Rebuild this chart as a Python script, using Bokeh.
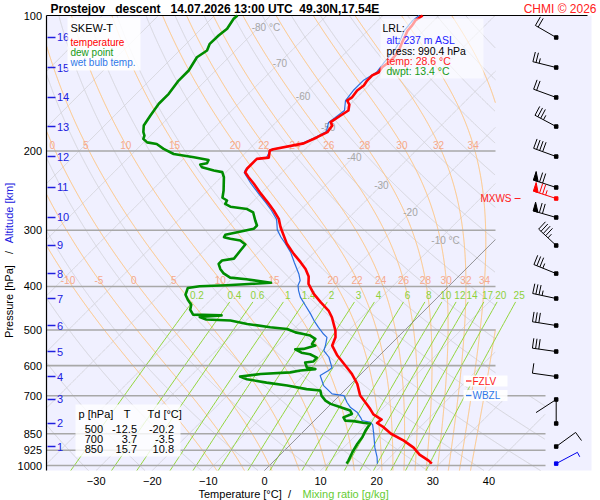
import numpy as np
from bokeh.plotting import figure
from bokeh.models import Range1d
from bokeh.embed import file_html
from bokeh.resources import INLINE
from bokeh.core.properties import value

FONT = "Liberation Sans"

# ---------------- texts ----------------
STATION = "Prostejov"
MODE = "descent"
TIMESTAMP = "14.07.2026 13:00 UTC"
LATLON = "49.30N,17.54E"
CREDIT = "CHMI \u00a9 2026"
X_TITLE = "Temperature [\u00b0C]"
X_TITLE2 = "Mixing ratio [g/kg]"
Y_TITLE = "Pressure [hPa]"
Y_TITLE2 = "Altitude [km]"

# ---------------- axes ----------------
P_TICKS = [100, 200, 300, 400, 500, 600, 700, 850, 925, 1000]
T_TICKS = [-30, -20, -10, 0, 10, 20, 30, 40]

ALT_KM = [1, 2, 3, 4, 5, 6, 7, 8, 9, 10, 11, 12, 13, 14, 15, 16]
ALT_P = [907.6, 806.6, 713.4, 634.3, 558.1, 488.6, 425.5, 374.5, 324.4,
         281.1, 241.1, 205.8, 176.5, 152.1, 130.5, 111.9]

# ---------------- sounding ----------------
TEMP_P = [100.0, 102.6, 105.2, 108.0, 110.8, 114.6, 119.6, 123.8, 127.0, 130.3,
          133.7, 135.9, 139.5, 143.1, 146.8, 151.8, 154.5, 157.7, 162.6, 166.8,
          172.6, 175.6, 181.6, 186.4, 192.4, 198.2, 199.5, 206.9, 208.3, 219.1,
          223.0, 228.8, 236.5, 248.8, 259.8, 271.2, 283.1, 295.4, 321.7, 338.6,
          353.3, 365.8, 380.2, 395.0, 415.4, 433.5, 452.5, 468.3, 501.3, 518.7,
          541.3, 569.7, 599.6, 626.2, 658.6, 699.2, 723.4, 749.2, 769.6, 790.6,
          804.6, 822.0, 850.0, 880.4, 912.6, 945.7, 975.3, 990.4]
TEMP_T = [-52.9, -53.3, -53.0, -52.9, -52.4, -51.8, -50.9, -50.6, -50.6, -50.9,
          -50.6, -51.2, -51.2, -50.9, -51.2, -50.9, -51.2, -50.1, -49.2, -49.7,
          -50.3, -49.4, -49.1, -50.0, -51.3, -55.7, -56.1, -55.0, -56.9, -56.9,
          -56.6, -55.1, -53.0, -50.0, -47.3, -44.7, -42.3, -40.5, -36.4, -33.4,
          -30.7, -28.6, -26.7, -25.4, -22.7, -20.0, -17.1, -15.3, -12.3, -11.1,
          -10.2, -7.5, -4.3, -1.6, 1.1, 3.7, 5.8, 7.9, 9.4, 11.8,
          11.6, 13.5, 16.0, 19.5, 22.5, 24.8, 27.5, 28.6]

WB_P = [100.0, 102.6, 108.0, 114.6, 119.6, 127.0, 133.7, 139.5, 146.8, 154.5,
        162.6, 168.5, 172.9, 181.0, 187.3, 193.2, 198.5, 206.9, 209.0, 220.0,
        223.4, 236.5, 248.8, 260.1, 271.2, 283.8, 299.5, 310.6, 321.3, 336.1,
        354.3, 375.3, 388.1, 398.1, 408.5, 422.6, 441.1, 460.3, 476.3, 493.1,
        510.3, 519.0, 541.3, 555.3, 574.7, 606.2, 615.2, 631.1, 664.3, 693.3,
        699.2, 724.5, 742.0, 761.1, 782.5, 794.7, 801.6, 811.3, 849.7, 912.6,
        958.5, 990.4]
WB_T = [-53.5, -53.8, -53.5, -52.3, -51.7, -51.4, -51.0, -51.9, -51.9, -51.5,
        -49.9, -50.3, -50.6, -49.4, -50.4, -51.9, -56.1, -55.4, -57.0, -57.0,
        -56.7, -53.5, -50.4, -47.6, -45.1, -42.6, -40.6, -38.7, -36.7, -34.2,
        -31.7, -28.9, -27.5, -27.0, -26.0, -24.5, -22.1, -19.7, -17.9, -15.9,
        -13.8, -12.6, -11.4, -10.8, -8.7, -6.3, -6.4, -7.0, -4.6, -1.6,
        0.8, 2.6, 4.0, 6.1, 7.7, 8.5, 10.3, 11.1, 12.9, 15.6,
        17.7, 18.9]

DEW_P = [100.0, 101.7, 107.0, 110.8, 115.6, 119.6, 123.8, 132.5, 139.5, 149.3,
         157.1, 166.8, 175.6, 181.6, 184.8, 188.0, 191.4, 193.0, 197.9, 203.1,
         206.6, 209.5, 213.0, 214.3, 217.3, 221.0, 222.9, 228.8, 244.8, 254.1,
         257.7, 262.3, 266.0, 269.2, 274.0, 285.5, 292.9, 297.9, 303.1, 307.1,
         310.9, 313.4, 316.2, 322.7, 332.8, 347.0, 350.3, 356.4, 365.8, 374.3,
         382.3, 385.6, 392.6, 394.7, 397.5, 399.7, 403.2, 417.4, 428.2, 439.3,
         450.6, 462.2, 463.9, 467.8, 473.9, 476.3, 484.6, 493.1, 497.2, 506.0,
         510.3, 514.3, 523.1, 536.7, 541.3, 550.6, 552.0, 561.5, 566.0, 575.7,
         587.4, 590.3, 605.6, 610.6, 615.2, 620.9, 626.2, 634.3, 643.1, 654.4,
         664.3, 676.6, 681.5, 699.2, 717.3, 729.6, 742.3, 755.0, 768.1, 781.7,
         794.7, 796.8, 803.6, 807.8, 836.4, 865.3, 894.8, 933.4, 975.3, 990.4]
DEW_T = [-85.9, -86.0, -85.4, -85.7, -85.8, -85.1, -85.7, -84.8, -84.8, -84.2,
         -84.2, -83.6, -83.0, -81.9, -81.1, -80.7, -79.4, -77.4, -75.3, -72.6,
         -68.4, -65.3, -65.0, -66.0, -65.2, -62.5, -60.7, -59.5, -57.2, -56.1,
         -54.8, -54.5, -53.1, -49.7, -48.0, -46.2, -45.0, -45.0, -47.3, -49.0,
         -48.8, -47.4, -45.3, -43.7, -43.5, -43.2, -45.0, -45.0, -43.8, -42.4,
         -40.5, -37.3, -32.3, -35.3, -39.8, -44.4, -46.2, -45.4, -44.1, -42.6,
         -41.9, -40.5, -35.3, -38.9, -37.3, -32.8, -29.2, -24.5, -21.2, -19.1,
         -17.4, -15.9, -14.4, -14.1, -13.2, -14.7, -16.1, -14.4, -12.6, -10.8,
         -10.7, -12.0, -10.8, -9.0, -11.4, -12.9, -17.9, -21.1, -19.4, -15.3,
         -11.1, -7.0, -4.3, -3.2, -1.6, -0.1, 2.3, 4.6, 5.5, 4.6,
         5.5, 7.1, 9.1, 10.5, 10.9, 11.5, 11.8, 12.4, 13.2, 13.4]

# winds (surface + every km)
WIND_P = [990.4, 907.6, 806.6, 713.4, 634.3, 558.1, 488.6, 425.5, 374.5,
          324.4, 281.1, 241.1, 205.8, 176.5, 152.1, 130.5, 111.9]
WIND_DIR = [62, 54, 360, 237, 278, 278, 279, 282, 292, 313, 286, 288, 290, 298, 290, 284, 300]
WIND_KT = [5, 10, 2, 2, 10, 30, 30, 35, 35, 45, 70, 70, 40, 35, 20, 25, 20]
MXWS_P, MXWS_DIR, MXWS_KT = 255.1, 288, 75
FZLV_P = 649.0
WBZL_P = 699.0

# lowest reported level and summary table
LRL_ALT, LRL_PRESS, LRL_TEMP, LRL_DWPT = 237, 990.4, 28.6, 13.4
TABLE_P = [500, 700, 850]
TABLE_T = [-12.5, 3.7, 15.7]
TABLE_TD = [-20.2, -3.5, 10.8]

# diagram lines
ISOTHERMS = list(range(-160, 60, 10))
DRY_THETA = list(range(220, 490, 10))
PSEUDO_THW = [-10, -5, 0, 5, 10, 15, 20, 22, 24, 26, 28, 30, 32, 34, 36]
PSEUDO_LAB_200 = [0, 5, 10, 15, 20, 22, 24, 26, 28, 30, 32, 34]
PSEUDO_LAB_400 = [-10, -5, 0, 5, 10, 15, 20, 22, 24, 26, 28, 30, 32, 34]
MIX_W = [0.2, 0.4, 0.6, 1, 1.4, 2, 3, 4, 6, 8, 10, 12, 14, 17, 20, 25]
ISO_LABEL_T = [-80, -70, -60, -50, -40, -30, -20, -10]
ISO_LABEL_P = [106.3, 127.2, 150.6, 176.5, 205.8, 238.6, 274.0, 316.2]

# ---------------- geometry ----------------
PB = 1025.9          # pressure at the bottom of the diagram
PT = 100.0           # pressure at the top of the diagram
SKEW = 80.2          # deg C per pressure decade


def RX(px):          # picture column -> data x
    return (px - 264.0) / 5.61


def RP(ry):          # picture row -> pressure
    return 100.0 * 10 ** ((ry - 15.0) / 450.0)


def PSY(pp):
    return 15.0 + 450.0 * np.log10(pp / 100.0)


X_LEFT = RX(46)
X_PANEL_RIGHT = RX(591)
X_CLIP_HI, X_CLIP_LO = RX(495), RX(545)


def skew(t, pp):
    return np.asarray(t, float) + SKEW * np.log10(PB / np.asarray(pp, float))


def clip_runs(X, P):
    X = np.asarray(X); P = np.asarray(P)
    lim = np.where(P < 699.0, X_CLIP_HI, X_CLIP_LO)
    ok = (X <= lim) & (X >= X_LEFT) & (P >= PT) & (P <= PB)
    runs, cx, cy = [], [], []
    for x, y, o in zip(X, P, ok):
        if o:
            cx.append(float(x)); cy.append(float(y))
        else:
            if len(cx) > 1:
                runs.append((cx, cy))
            cx, cy = [], []
    if len(cx) > 1:
        runs.append((cx, cy))
    return runs


def es_hpa(tk):
    return 6.112 * np.exp(17.67 * (tk - 273.15) / (tk - 29.65))


def moist_rate(tk, lnp):
    pp = np.exp(lnp)
    e = es_hpa(tk)
    rs = 0.622 * e / (pp - e)
    return (287.04 * tk + 2.501e6 * rs) / (1005.7 + 2.501e6 ** 2 * rs * 0.622 / (287.04 * tk * tk))


def pseudo(thw):
    def integ(p_end, n):
        lnps = np.linspace(np.log(1000.0), np.log(p_end), n)
        T = [thw + 273.15]
        for i in range(n - 1):
            h = lnps[i + 1] - lnps[i]
            tk = T[-1]
            k1 = moist_rate(tk, lnps[i])
            k2 = moist_rate(tk + h * k1 / 2, lnps[i] + h / 2)
            k3 = moist_rate(tk + h * k2 / 2, lnps[i] + h / 2)
            k4 = moist_rate(tk + h * k3, lnps[i + 1])
            T.append(tk + h * (k1 + 2 * k2 + 2 * k3 + k4) / 6)
        return np.exp(lnps), np.array(T) - 273.15
    pu, tu = integ(PT, 600)
    pd, td = integ(PB, 12)
    return np.concatenate([pd[::-1], pu[1:]]), np.concatenate([td[::-1], tu[1:]])


def td_of_w(w, pp):
    e = w * pp / (622.0 + w)
    g = np.log(e / 6.112)
    return 243.5 * g / (17.67 - g)


# ---------------- figure (the frame is the whole picture) ----------------
p = figure(width=600, height=500, title=None,
           x_range=Range1d(RX(0), RX(600)), y_range=Range1d(RP(500), RP(0)),
           y_axis_type="log", x_axis_location=None, y_axis_location=None,
           output_backend="svg", toolbar_location=None,
           min_border_left=0, min_border_right=0, min_border_top=0, min_border_bottom=0,
           background_fill_color="white", border_fill_color="white",
           outline_line_color=None)
p.xgrid.visible = False
p.ygrid.visible = False

# diagram panel
p.quad(left=[X_LEFT], right=[X_PANEL_RIGHT], top=[PT], bottom=[PB],
       fill_color="#F0F0FF", line_color=None)

PD = np.logspace(np.log10(PB), np.log10(PT), 900)

# isotherms
xs, ys = [], []
zx, zy = [], []
for t in ISOTHERMS:
    for rx_, ry_ in clip_runs(skew(t, PD), PD):
        if t == 0:
            zx.append(rx_); zy.append(ry_)
        else:
            xs.append(rx_); ys.append(ry_)
# dry adiabats
for th in DRY_THETA:
    tc = th * (PD / 1000.0) ** 0.2857 - 273.15
    for rx_, ry_ in clip_runs(skew(tc, PD), PD):
        xs.append(rx_); ys.append(ry_)
p.multi_line(xs, ys, line_color="#D4D4DA", line_width=1)

# pseudo-adiabats
ox, oy = [], []
lab_x, lab_y, lab_t = [], [], []
for thw in PSEUDO_THW:
    pp_, tt_ = pseudo(thw)
    X = skew(tt_, pp_)
    for rx_, ry_ in clip_runs(X, pp_):
        ox.append(rx_); oy.append(ry_)
    lnp_rev = np.log(pp_[::-1]); X_rev = X[::-1]
    if thw in PSEUDO_LAB_200:
        lab_x.append(float(np.interp(np.log(193.5), lnp_rev, X_rev))); lab_y.append(193.5); lab_t.append(str(thw))
    if thw in PSEUDO_LAB_400:
        lab_x.append(float(np.interp(np.log(386.7), lnp_rev, X_rev))); lab_y.append(386.7); lab_t.append(str(thw))
p.multi_line(ox, oy, line_color="#FFC47E", line_width=1)

# mixing ratio lines
PM = np.logspace(np.log10(PB), np.log10(433.0), 40)
mx, my = [], []
for w in MIX_W:
    mx.append(list(skew(td_of_w(w, PM), PM))); my.append(list(PM))
p.multi_line(mx, my, line_color="#94D63E", line_width=1)

# 0 deg C isotherm
p.multi_line(zx, zy, line_color="#777777", line_width=1)

# pressure levels
for pl in P_TICKS[1:]:
    right = X_CLIP_HI if pl < 699 else X_CLIP_LO
    p.segment(x0=[X_LEFT], x1=[right], y0=[pl], y1=[pl], line_color="#A8A8A8", line_width=1.6)
p.segment(x0=[X_LEFT], x1=[RX(587)], y0=[PT], y1=[PT], line_color="black", line_width=1.2)
p.segment(x0=[X_LEFT], x1=[X_LEFT], y0=[PT], y1=[PB], line_color="black", line_width=1.2)


def tx(x, y, s, color="black", size="10px", align="left", style="normal", angle=0.0, x_offset=0):
    p.text(x=x, y=y, text=s, text_color=color, text_font=value(FONT), text_font_size=size,
           text_align=align, text_baseline="middle", text_font_style=style, angle=angle,
           x_offset=x_offset)


# tick labels
tx([RX(41.5)] * len(P_TICKS), P_TICKS, [str(v) for v in P_TICKS], size="11px", align="right")
tx(T_TICKS, [RP(480)] * len(T_TICKS), [("\u2212" + str(-v)) if v < 0 else str(v) for v in T_TICKS],
   size="11px", align="center")

# labels of diagram lines
tx(lab_x, lab_y, lab_t, color="#F5A98C", align="center")
mix_x = [float(skew(td_of_w(w, 419.0), 419.0)) for w in MIX_W]
tx(mix_x, [419.0] * len(MIX_W), [f"{w:g}" for w in MIX_W], color="#8ED13A", align="center")
iso_txt = [f"{t} \u00b0C" if t in (-80, -10) else f"{t}" for t in ISO_LABEL_T]
tx(list(skew(ISO_LABEL_T, ISO_LABEL_P)), ISO_LABEL_P, iso_txt, color="#A6A6A6", x_offset=-7)

# altitude scale
p.segment(x0=[RX(47)] * len(ALT_P), x1=[RX(55)] * len(ALT_P), y0=ALT_P, y1=ALT_P,
          line_color="#2020E0", line_width=1.6)
tx([RX(56.5)] * len(ALT_P), ALT_P, [str(k) for k in ALT_KM], color="#2020E0", size="11px")

# legend box
p.quad(left=[RX(67)], right=[RX(140)], top=[RP(17)], bottom=[RP(70)], fill_color="white",
       fill_alpha=0.85, line_color=None)
tx([RX(70)], [RP(27)], ["SKEW-T"], size="11px")
tx([RX(70)], [RP(42)], ["temperature"], color="#FF0000")
tx([RX(70)], [RP(52)], ["dew point"], color="#169A16")
tx([RX(70)], [RP(62)], ["wet bulb temp."], color="#2F78E8")

# table box
p.quad(left=[RX(75)], right=[RX(180)], top=[RP(404)], bottom=[RP(456)], fill_color="white",
       fill_alpha=0.8, line_color=None)
tx([RX(78)], [RP(413)], ["p [hPa]"], size="11px")
tx([RX(126.5)], [RP(413)], ["T"], size="11px", align="center")
tx([RX(147)], [RP(413)], ["Td [\u00b0C]"], size="11px")
rows_y = [RP(428.3 + 10 * i) for i in range(len(TABLE_P))]
tx([RX(102.5)] * len(TABLE_P), rows_y, [f"{v}" for v in TABLE_P], size="11px", align="right")
tx([RX(136.5)] * len(TABLE_T), rows_y, [f"{v:.1f}" for v in TABLE_T], size="11px", align="right")
tx([RX(173.5)] * len(TABLE_TD), rows_y, [f"{v:.1f}" for v in TABLE_TD], size="11px", align="right")

# sounding curves
p.line(list(skew(WB_T, WB_P)), WB_P, line_color="#2B6FDF", line_width=1.2)
p.line(list(skew(DEW_T, DEW_P)), DEW_P, line_color="#008C00", line_width=2.6, line_join="round")
p.line(list(skew(TEMP_T, TEMP_P)), TEMP_P, line_color="#FF0000", line_width=2.6, line_join="round")

# LRL box
p.quad(left=[RX(380)], right=[RX(483)], top=[RP(18)], bottom=[RP(78)], fill_color="white",
       fill_alpha=0.62, line_color=None)
tx([RX(382)], [RP(27.5)], ["LRL:"], size="10.5px")
tx([RX(386)], [RP(39.5)], [f"alt: {LRL_ALT} m ASL"], color="#2222FF", size="10.5px")
tx([RX(386)], [RP(50.5)], [f"press: {LRL_PRESS:.1f} hPa"], size="10.5px")
tx([RX(386)], [RP(60.5)], [f"temp: {LRL_TEMP:.1f} \u00b0C"], color="#FF2020", size="10.5px")
tx([RX(386)], [RP(70.5)], [f"dwpt: {LRL_DWPT:.1f} \u00b0C"], color="#169A16", size="10.5px")

# level markers
for lev, name, col in [(FZLV_P, "FZLV", "#FF2020"), (WBZL_P, "WBZL", "#2F78E8")]:
    sy = PSY(lev)
    p.quad(left=[RX(463)], right=[RX(507)], top=[RP(sy - 5.5)], bottom=[RP(sy + 5.5)],
           fill_color="white", fill_alpha=0.9, line_color=None)
    p.segment(x0=[RX(465.5)], x1=[RX(471)], y0=[lev], y1=[lev], line_color=col, line_width=1.3)
    tx([RX(472)], [lev], [name], color=col)
p.segment(x0=[RX(514)], x1=[RX(520)], y0=[MXWS_P], y1=[MXWS_P], line_color="#FF2020", line_width=1.2)
tx([RX(511)], [MXWS_P], ["MXWS"], color="#FF2020", align="right")

# wind barbs
BARB_SX = 555.7
STAFF = 24.0
seg_x, seg_y, seg_c = [], [], []
tri_x, tri_y, tri_c = [], [], []
dot_x, dot_y, dot_c = [], [], []


def add_barb(pp, ddeg, kt, color):
    bx, by = BARB_SX, PSY(pp)
    a = np.radians(ddeg)
    ux, uy = np.sin(a), -np.cos(a)
    ex, ey = bx + STAFF * ux, by + STAFF * uy
    fx, fy = -uy, ux
    lines = [[(bx, by), (ex, ey)]]
    n50 = kt // 50
    n10 = (kt - 50 * n50) // 10
    n5 = 1 if (kt - 50 * n50 - 10 * n10) >= 5 else 0
    s = 0.0
    for _ in range(n50):
        q1 = (ex - s * ux, ey - s * uy)
        q2 = (ex - (s + 5) * ux, ey - (s + 5) * uy)
        tip = (q1[0] + 9 * fx, q1[1] + 9 * fy)
        tri_x.append([RX(q[0]) for q in (q1, tip, q2)])
        tri_y.append([RP(q[1]) for q in (q1, tip, q2)])
        tri_c.append(color)
        s += 6.5
    for _ in range(n10):
        q = (ex - s * ux, ey - s * uy)
        lines.append([q, (q[0] + 10 * fx, q[1] + 10 * fy)])
        s += 3.2
    if n5:
        q = (ex - s * ux, ey - s * uy)
        lines.append([q, (q[0] + 5 * fx, q[1] + 5 * fy)])
    for ln in lines:
        seg_x.append([RX(q[0]) for q in ln]); seg_y.append([RP(q[1]) for q in ln]); seg_c.append(color)
    dot_x.append(RX(bx)); dot_y.append(pp); dot_c.append(color)


for i, (wp, wd, wk) in enumerate(zip(WIND_P, WIND_DIR, WIND_KT)):
    add_barb(wp, wd, wk, "#0000EE" if i == 0 else "black")
add_barb(MXWS_P, MXWS_DIR, MXWS_KT, "#FF0000")
p.multi_line(seg_x, seg_y, line_color=seg_c, line_width=1)
p.patches(tri_x, tri_y, fill_color=tri_c, line_color=tri_c, line_width=1)
p.scatter(dot_x, dot_y, marker="square", size=3.5, fill_color=dot_c, line_color=dot_c)

# titles
NB = "\u00a0"
tx([RX(50)], [RP(8.8)], [f"{STATION}{NB*3}{MODE}{NB*3}{TIMESTAMP}{NB*2}{LATLON}"], size="12px", style="bold")
tx([RX(596)], [RP(8.8)], [CREDIT], color="#FF2020", size="12px", align="right")
tx([RX(198)], [RP(493)], [X_TITLE], size="11px")
tx([RX(289)], [RP(493)], ["/"], size="11px", align="center")
tx([RX(302)], [RP(493)], [X_TITLE2], color="#66CC33", size="11px")
tx([RX(8.5)], [RP(301)], [Y_TITLE], size="11px", align="center", angle=np.pi / 2)
tx([RX(8.5)], [RP(252)], ["/"], size="11px", align="center", angle=np.pi / 2)
tx([RX(8.5)], [RP(212.5)], [Y_TITLE2], color="#2020E0", size="11px", align="center", angle=np.pi / 2)

open("out.html", "w").write(file_html(p, INLINE))
